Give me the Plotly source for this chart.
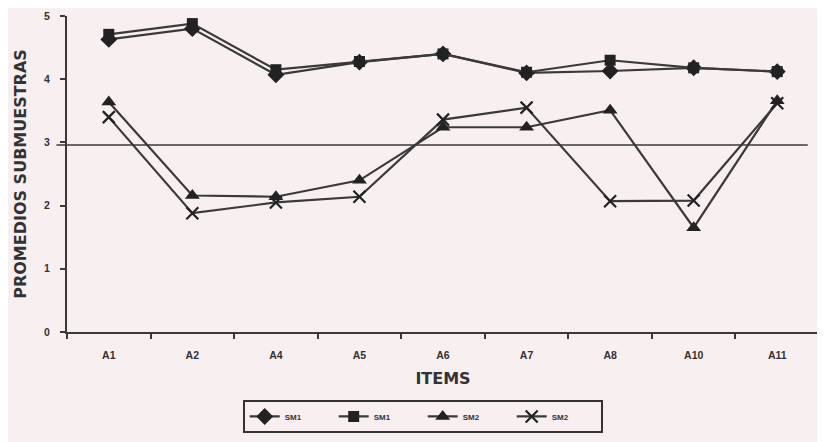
import plotly.graph_objects as go

items = ["A1", "A2", "A4", "A5", "A6", "A7", "A8", "A10", "A11"]
sm1_diamond = [4.63, 4.80, 4.07, 4.27, 4.40, 4.10, 4.13, 4.18, 4.12]
sm1_square = [4.71, 4.88, 4.15, 4.28, 4.40, 4.11, 4.30, 4.18, 4.12]
sm2_triangle = [3.64, 2.16, 2.14, 2.40, 3.24, 3.24, 3.51, 1.65, 3.66]
sm2_x = [3.40, 1.88, 2.05, 2.14, 3.36, 3.55, 2.07, 2.08, 3.62]
ref_value = 2.96
y_ticks = [0, 1, 2, 3, 4, 5]

font_family = "Liberation Sans, Arial, sans-serif"
title_family = "DejaVu Sans, Liberation Sans, sans-serif"
line_color = "#3a3a3a"
bg = "#f8eff0"

fig = go.Figure()
series = [
    ("SM1", sm1_diamond, "diamond", 13, 0),
    ("SM1", sm1_square, "square", 11, 0),
    ("SM2", sm2_triangle, "triangle-up", 13, 0),
    ("SM2", sm2_x, "x-thin", 12, 2.2),
]
for name, vals, sym, size, lw in series:
    fig.add_trace(go.Scatter(
        x=items, y=vals, name=name, mode="lines+markers",
        line=dict(color=line_color, width=2.2),
        marker=dict(symbol=sym, size=size, color="#222222",
                    line=dict(color="#222222", width=lw)),
    ))

fig.add_shape(type="line", xref="paper", yref="y", x0=-0.014, x1=0.985,
              y0=ref_value, y1=ref_value, line=dict(color=line_color, width=1.5))

tick_font = dict(size=10.5, family=font_family, color="#333333", weight="bold")

fig.update_layout(
    width=825, height=442,
    margin=dict(l=59, r=14, t=8, b=118),
    paper_bgcolor=bg, plot_bgcolor=bg,
    font=dict(family=font_family, color="#333333", size=9),
    showlegend=True,
    legend=dict(orientation="h", x=0.473, xanchor="center", y=-0.215, yanchor="top",
                bordercolor="#333333", borderwidth=2, bgcolor=bg,
                font=dict(size=8, family=font_family, color="#333333", weight="bold"),
                entrywidth=44, entrywidthmode="pixels"),
    xaxis=dict(
        type="category", range=[-0.5, 8.5], showgrid=False, zeroline=False,
        showline=True, linecolor=line_color, linewidth=2, automargin=False,
        ticks="outside", ticklen=5, tickwidth=2, tickcolor=line_color,
        tickson="boundaries", tickfont=tick_font,
        title=dict(text="ITEMS", font=dict(size=16, family=title_family, color="#333333", weight="bold"),
                   standoff=13),
    ),
    yaxis=dict(
        range=[0, 5], tickvals=y_ticks, showgrid=False, zeroline=False,
        showline=True, linecolor=line_color, linewidth=2, automargin=False,
        ticks="outside", ticklen=5, tickwidth=2, tickcolor=line_color,
        tickfont=tick_font,
        title=dict(text="PROMEDIOS SUBMUESTRAS",
                   font=dict(size=16, family=title_family, color="#333333", weight="bold"),
                   standoff=13),
    ),
)
fig.update_xaxes(ticklabelstandoff=12)
fig.update_yaxes(ticklabelstandoff=8)

fig.write_html("out.html")
